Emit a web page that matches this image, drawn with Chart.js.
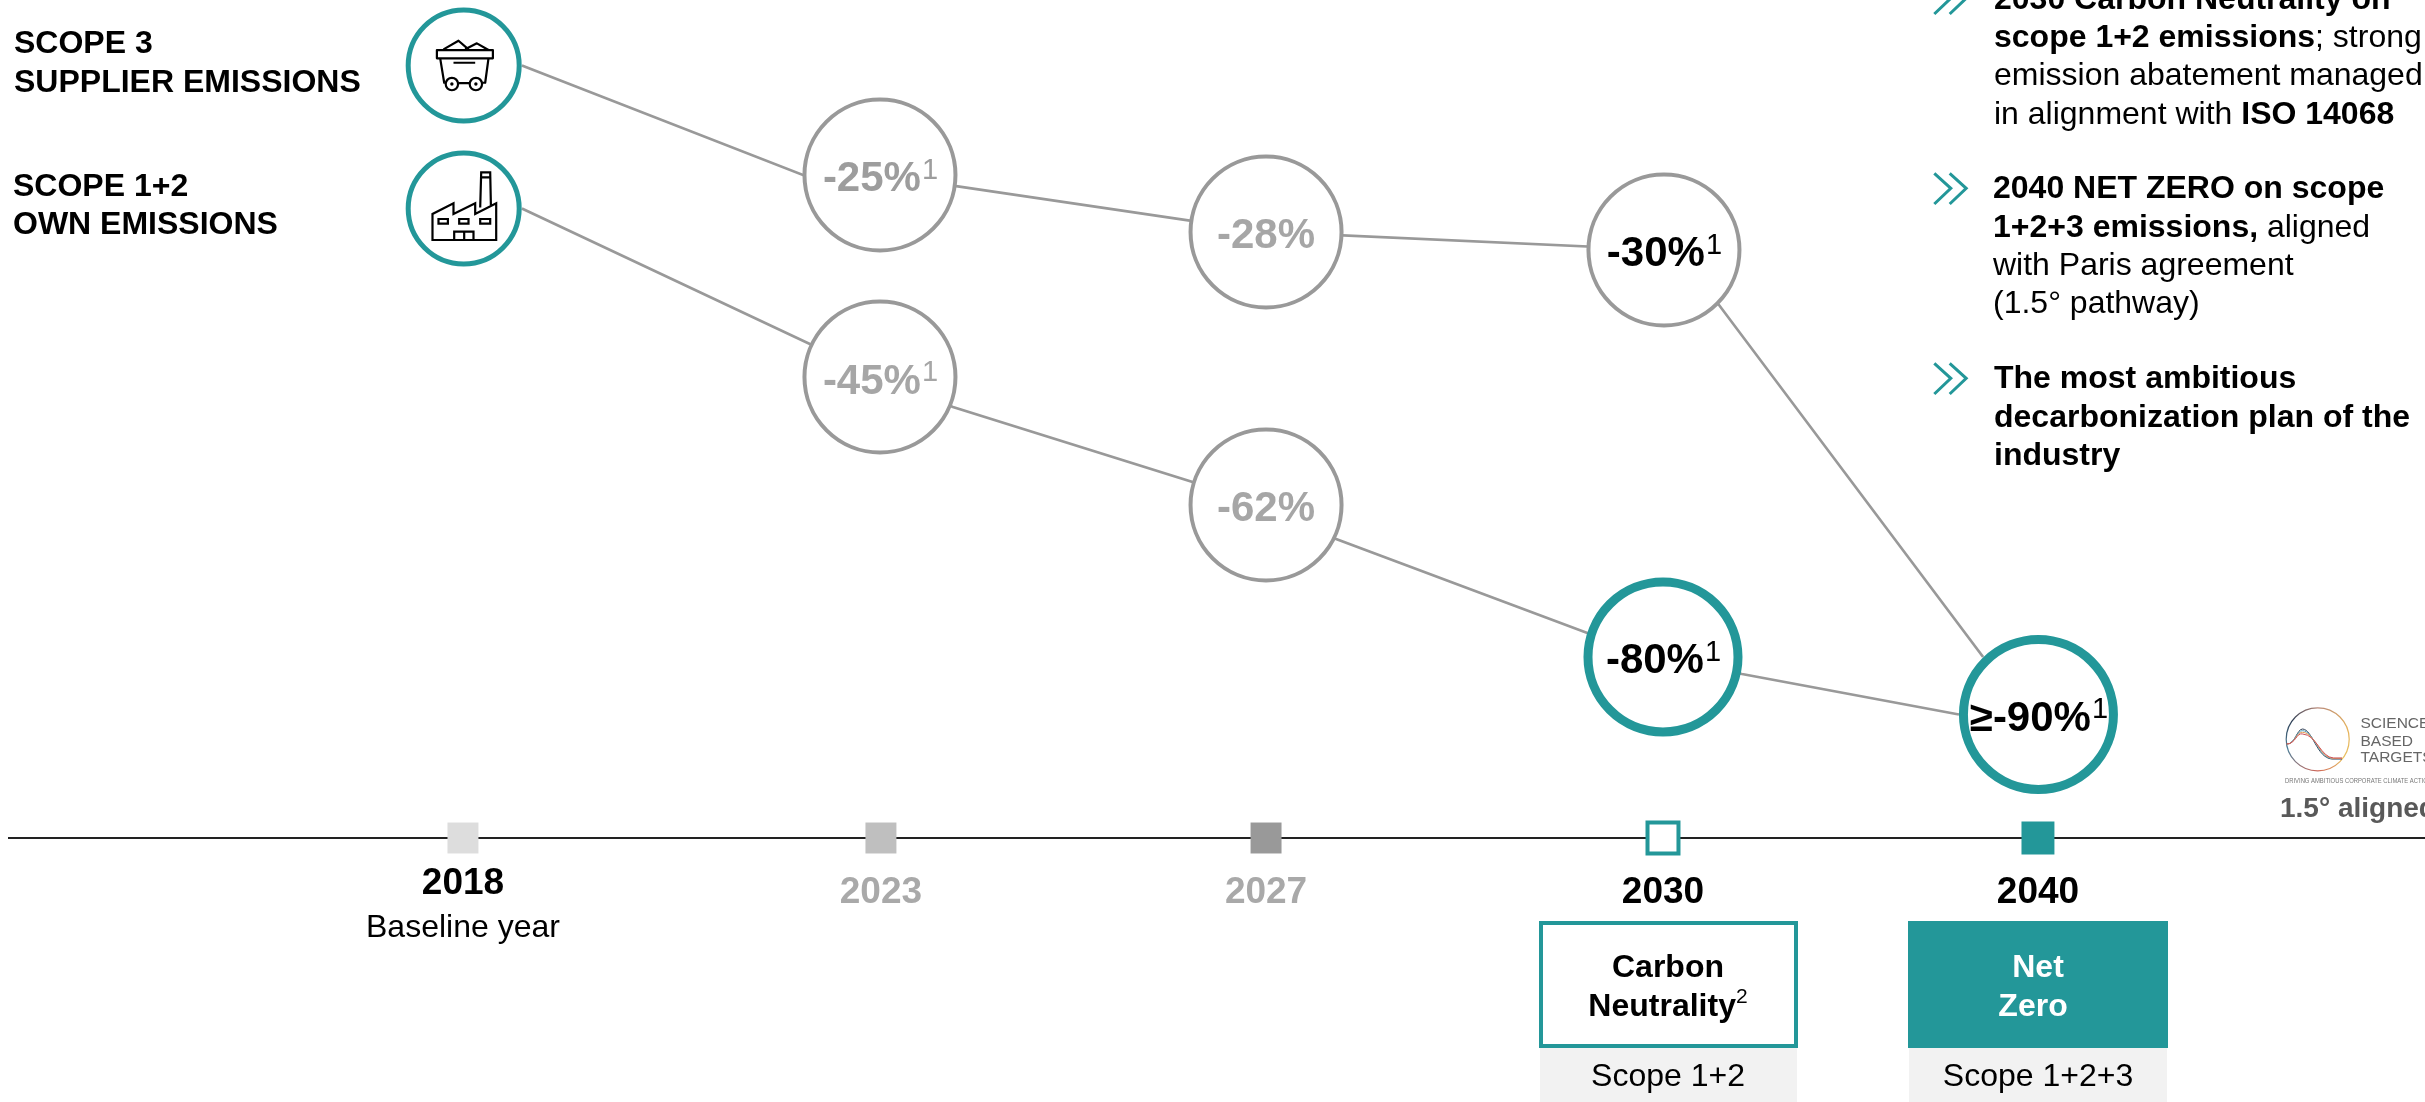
<!DOCTYPE html>
<html>
<head>
<meta charset="utf-8">
<style>
html,body{margin:0;padding:0;background:#fff;overflow:hidden}
canvas{display:block}
</style>
<script src="https://cdn.jsdelivr.net/npm/chart.js@4/dist/chart.umd.min.js"></script>
</head>
<body>
<canvas id="c" width="2425" height="1102"></canvas>
<script>
// Timeline
const timelineYears = ['2018','2023','2027','2030','2040'];
const timelineX = [18.79, 36.09, 52.03, 68.46, 83.98];
const timelineFill = ['#dddddd','#bfbfbf','#999999','#ffffff','#239799'];
const timelineEdge = ['#dddddd','#bfbfbf','#999999','#239799','#239799'];
const timelineSize = [21.9, 21.9, 21.9, 21.9, 23.3];
const timelineStroke = [0, 0, 0, 4, 0];
const yearColors = ['#000000','#a9a9a9','#a9a9a9','#000000','#000000'];

// Scope starting icons (schematic level on the 0-100 chart height)
const iconX = [18.82, 18.82];
const iconLevel = [92.18, 75.11];

// Scope 3 reductions
const scope3Labels = ['-25%','-28%','-30%'];
const scope3Notes = ['1','','1'];
const scope3X = [36.05, 52.03, 68.50];
const scope3Level = [79.12, 72.32, 70.17];
const scope3Text = ['#9d9d9d','#a6a6a6','#000000'];
const scope3LineX = [21.23, 32.86, 36.05, 52.03, 68.50, 70.78, 81.71];
const scope3LineLevel = [92.18, 79.12, 79.12, 72.32, 70.17, 63.60, 21.60];

// Scope 1+2 reductions
const scope12Labels = ['-45%','-62%','-80%'];
const scope12Notes = ['1','','1'];
const scope12X = [36.05, 52.03, 68.46];
const scope12Level = [55.01, 39.74, 21.60];
const scope12Text = ['#a6a6a6','#a6a6a6','#000000'];
const scope12Edge = ['#999999','#999999','#239799'];
const scope12Radius = [75.5, 75.5, 75];
const scope12Stroke = [4, 4, 9];
const scope12LineX = [21.23, 36.05, 39.07, 52.03, 54.93, 65.44, 68.46, 71.73, 80.71];
const scope12LineLevel = [75.11, 55.01, 51.43, 39.74, 35.68, 24.34, 21.60, 19.57, 14.74];

// 2040 target
const targetLabels = ['≥-90%'];
const targetNotes = ['1'];
const targetX = [84.00];
const targetLevel = [14.74];

const toPoints = (xs, ys) => xs.map((x, i) => ({x, y: ys[i]}));

const FONT = '"Liberation Sans", Arial, sans-serif';
const TEAL = '#239799';

function runs(ctx, x, y, list, size) {
  for (const [txt, bold, color] of list) {
    ctx.font = (bold ? 'bold ' : '') + size + 'px ' + FONT;
    ctx.fillStyle = color || '#000';
    ctx.fillText(txt, x, y);
    x += ctx.measureText(txt).width;
  }
}
function centered(ctx, txt, x, y, size, bold, color) {
  ctx.font = (bold ? 'bold ' : '') + size + 'px ' + FONT;
  ctx.fillStyle = color;
  ctx.textAlign = 'center';
  ctx.fillText(txt, x, y);
  ctx.textAlign = 'left';
}
function nodeText(ctx, pt, label, note, color) {
  ctx.textAlign = 'left';
  ctx.font = 'bold 42px ' + FONT;
  const w = ctx.measureText(label).width;
  ctx.font = '29px ' + FONT;
  const nw = note ? ctx.measureText(note).width : 0;
  const sx = pt.x - (w + nw) / 2;
  ctx.font = 'bold 42px ' + FONT;
  ctx.fillStyle = color;
  ctx.fillText(label, sx, pt.y + 16.5);
  if (note) {
    ctx.font = '29px ' + FONT;
    ctx.fillText(note, sx + w + 1, pt.y + 4);
  }
}
function chevrons(ctx, dy) {
  ctx.strokeStyle = TEAL; ctx.lineWidth = 3;
  for (const dx of [0, 15.4]) {
    ctx.beginPath();
    ctx.moveTo(1934.3 + dx, 173.3 + dy);
    ctx.lineTo(1950.8 + dx, 188.3 + dy);
    ctx.lineTo(1934.3 + dx, 204 + dy);
    ctx.stroke();
  }
}
function cart(ctx, p) {
  ctx.save();
  ctx.translate(p.x, p.y);
  ctx.strokeStyle = '#000'; ctx.lineWidth = 2.2; ctx.lineJoin = 'round';
  ctx.beginPath();
  ctx.moveTo(-20.2,-16.2); ctx.lineTo(-5.2,-24.8); ctx.lineTo(4.8,-16.2);
  ctx.moveTo(1.5,-16.2); ctx.lineTo(13.2,-22.2); ctx.lineTo(24.8,-15.5);
  ctx.rect(-26.8,-15.5,56,8.3);
  ctx.moveTo(-23.5,-7.2); ctx.lineTo(-19.5,17.2); ctx.lineTo(-18.5,17.2);
  ctx.moveTo(24.8,-7.2); ctx.lineTo(21.5,17.2); ctx.lineTo(18.5,17.2);
  ctx.moveTo(-5.5,17.5); ctx.lineTo(6,17.5);
  ctx.moveTo(-10.2,-2.8); ctx.lineTo(11.5,-2.8);
  ctx.stroke();
  for (const wx of [-11.8, 12.2]) {
    ctx.beginPath(); ctx.arc(wx,18.5,6.2,0,Math.PI*2); ctx.stroke();
    ctx.beginPath(); ctx.arc(wx,18.5,1.7,0,Math.PI*2); ctx.fillStyle='#000'; ctx.fill();
  }
  ctx.restore();
}
function factory(ctx, p) {
  ctx.save();
  ctx.translate(p.x, p.y);
  ctx.strokeStyle = '#000'; ctx.lineWidth = 2.2; ctx.lineJoin = 'miter';
  ctx.beginPath();
  ctx.moveTo(-31.2,31.4); ctx.lineTo(-31.2,5.4); ctx.lineTo(-10.2,-5.3); ctx.lineTo(-10.2,5.4);
  ctx.lineTo(11.5,-5.3); ctx.lineTo(11.5,5.4); ctx.lineTo(32.5,-5.3); ctx.lineTo(32.5,31.4); ctx.closePath();
  ctx.moveTo(16.5,-1); ctx.lineTo(17.5,-36.3); ctx.lineTo(26.5,-36.3); ctx.lineTo(27.2,-3.6);
  ctx.moveTo(17.3,-31.3); ctx.lineTo(26.7,-31.3);
  ctx.rect(-25.2,10.4,9.4,4.7); ctx.rect(-4.5,10.4,9.3,4.7); ctx.rect(16.5,10.4,10,4.7);
  ctx.rect(-9.5,23,19.3,8.4); ctx.moveTo(0.5,23); ctx.lineTo(0.5,31.4);
  ctx.stroke();
  ctx.restore();
}
function logo(ctx) {
  ctx.save();
  const cx = 2317.7, cy = 739.3;
  const g = ctx.createConicGradient(-Math.PI/2, cx, cy);
  g.addColorStop(0, '#b98a7a');
  g.addColorStop(0.2, '#e6b25a');
  g.addColorStop(0.35, '#e8c060');
  g.addColorStop(0.5, '#d0685a');
  g.addColorStop(0.7, '#4f7f98');
  g.addColorStop(0.85, '#2f3f55');
  g.addColorStop(1, '#b98a7a');
  ctx.strokeStyle = g; ctx.lineWidth = 1.2;
  ctx.beginPath(); ctx.arc(cx, cy, 31.5, 0, Math.PI*2); ctx.stroke();
  const cols = ['#2f3f55','#4fa0c0','#e6a05a','#c9505a'];
  ctx.translate(2270, 695); ctx.scale(1/3, 1/3);
  ctx.lineWidth = 3;
  cols.forEach((c, i) => {
    ctx.strokeStyle = c;
    ctx.beginPath();
    ctx.moveTo(50, 147);
    ctx.bezierCurveTo(76, 148, 80, 102 + i*3, 98, 102 + i*5);
    ctx.bezierCurveTo(128 + i*4, 104 + i*5, 140 + i*4, 188, 185 + i*2, 192 - i);
    ctx.lineTo(216, 192 - i);
    ctx.stroke();
  });
  ctx.restore();
  ctx.font = '15.5px ' + FONT; ctx.fillStyle = '#666';
  ctx.fillText('SCIENCE', 2360.5, 728);
  ctx.fillText('BASED', 2360.5, 745.5);
  ctx.fillText('TARGETS', 2360.5, 762);
  ctx.font = '7.5px ' + FONT; ctx.fillStyle = '#777';
  ctx.fillText('DRIVING AMBITIOUS CORPORATE CLIMATE ACTION', 2285, 783, 147);
  ctx.font = 'bold 28px ' + FONT; ctx.fillStyle = '#595959';
  ctx.fillText('1.5° aligned', 2280, 816.5);
}

const annotations = {
  id: 'annotations',
  afterDatasetsDraw(chart) {
    const ctx = chart.ctx;
    const xs = chart.scales.x;
    const base = chart.scales.y.getPixelForValue(0);
    ctx.save();
    ctx.textBaseline = 'alphabetic';
    ctx.textAlign = 'left';

    // left headers
    runs(ctx, 14, 53, [['SCOPE 3', true]], 32);
    runs(ctx, 14, 91.5, [['SUPPLIER EMISSIONS', true]], 32);
    runs(ctx, 13, 196, [['SCOPE 1+2', true]], 32);
    runs(ctx, 13, 234, [['OWN EMISSIONS', true]], 32);

    // icons
    const iconMeta = chart.getDatasetMeta(0).data;
    cart(ctx, iconMeta[0]);
    factory(ctx, iconMeta[1]);

    // node labels
    chart.getDatasetMeta(1).data.forEach((p, i) => nodeText(ctx, p, scope3Labels[i], scope3Notes[i], scope3Text[i]));
    chart.getDatasetMeta(2).data.forEach((p, i) => nodeText(ctx, p, scope12Labels[i], scope12Notes[i], scope12Text[i]));
    chart.getDatasetMeta(3).data.forEach((p, i) => nodeText(ctx, p, targetLabels[i], targetNotes[i], '#000'));

    // years
    timelineYears.forEach((yr, i) => {
      const dy = i === 0 ? 55.5 : 64.7;
      centered(ctx, yr, xs.getPixelForValue(timelineX[i]), base + dy, 37, true, yearColors[i]);
    });
    centered(ctx, 'Baseline year', xs.getPixelForValue(timelineX[0]), base + 99, 32, false, '#000');

    // target boxes
    ctx.fillStyle = '#f2f2f2';
    ctx.fillRect(1540, 1048, 257, 54);
    ctx.fillRect(1909, 1048, 258, 54);
    ctx.strokeStyle = TEAL; ctx.lineWidth = 4;
    ctx.strokeRect(1541, 923, 255, 123);
    ctx.fillStyle = TEAL;
    ctx.fillRect(1908, 921, 260, 127);

    centered(ctx, 'Carbon', 1668, 977, 32, true, '#000');
    ctx.font = 'bold 32px ' + FONT;
    const nw = ctx.measureText('Neutrality').width;
    ctx.font = '21px ' + FONT;
    const sw = ctx.measureText('2').width;
    const nx = 1668 - (nw + sw) / 2;
    runs(ctx, nx, 1015.7, [['Neutrality', true]], 32);
    runs(ctx, nx + nw, 1003, [['2', false]], 21);
    centered(ctx, 'Scope 1+2', 1668, 1086, 32, false, '#000');
    centered(ctx, 'Net', 2038, 976.7, 32, true, '#fff');
    centered(ctx, 'Zero', 2033, 1015.7, 32, true, '#fff');
    centered(ctx, 'Scope 1+2+3', 2038, 1086, 32, false, '#000');

    // right panel
    chevrons(ctx, -190); chevrons(ctx, 0); chevrons(ctx, 190);
    const X = 1994;
    runs(ctx, X, 8.5, [['2030 Carbon Neutrality on', true]], 32);
    runs(ctx, X, 47, [['scope 1+2 emissions', true], ['; strong', false]], 32);
    runs(ctx, X, 85, [['emission abatement managed', false]], 32);
    runs(ctx, X, 123.5, [['in alignment with ', false], ['ISO 14068', true]], 32);
    runs(ctx, X - 1, 198, [['2040 NET ZERO on scope', true]], 32);
    runs(ctx, X - 1, 236.5, [['1+2+3 emissions,', true], [' aligned', false]], 32);
    runs(ctx, X - 1, 275, [['with Paris agreement', false]], 32);
    runs(ctx, X - 1, 313, [['(1.5° pathway)', false]], 32);
    runs(ctx, X, 388, [['The most ambitious', true]], 32);
    runs(ctx, X, 426.5, [['decarbonization plan of the', true]], 32);
    runs(ctx, X, 465, [['industry', true]], 32);

    logo(ctx);
    ctx.restore();
  }
};

new Chart(document.getElementById('c').getContext('2d'), {
  type: 'scatter',
  data: {
    datasets: [
      { label: 'Starting icons', data: toPoints(iconX, iconLevel), order: 3, clip: false, showLine: false,
        pointRadius: 55.5, pointBorderWidth: 5, pointBackgroundColor: '#fff', pointBorderColor: TEAL },
      { label: 'Scope 3', data: toPoints(scope3X, scope3Level), order: 1, clip: false, showLine: false,
        pointRadius: 75.5, pointBorderWidth: 4, pointBackgroundColor: '#fff', pointBorderColor: '#999999' },
      { label: 'Scope 1+2', data: toPoints(scope12X, scope12Level), order: 1, clip: false, showLine: false,
        pointRadius: scope12Radius, pointBorderWidth: scope12Stroke, pointBackgroundColor: '#fff', pointBorderColor: scope12Edge },
      { label: '2040 target', data: toPoints(targetX, targetLevel), order: 1, clip: false, showLine: false,
        pointRadius: 75, pointBorderWidth: 9, pointBackgroundColor: '#fff', pointBorderColor: TEAL },
      { label: 'Scope 3 path', data: toPoints(scope3LineX, scope3LineLevel), order: 4, clip: false, showLine: true,
        pointRadius: 0, borderColor: '#999999', borderWidth: 2.7, tension: 0 },
      { label: 'Scope 1+2 path', data: toPoints(scope12LineX, scope12LineLevel), order: 4, clip: false, showLine: true,
        pointRadius: 0, borderColor: '#999999', borderWidth: 2.7, tension: 0 },
      { label: 'Timeline', data: timelineX.map(x => ({x, y: 0})), order: 0, clip: false, showLine: false,
        pointStyle: 'rect', pointRadius: timelineSize, pointBorderWidth: timelineStroke,
        pointBackgroundColor: timelineFill, pointBorderColor: timelineEdge }
    ]
  },
  options: {
    responsive: false,
    animation: false,
    devicePixelRatio: 1,
    layout: { autoPadding: false, padding: { left: 9, right: 0, top: 0, bottom: 264 } },
    plugins: { legend: { display: false }, tooltip: { enabled: false } },
    events: [],
    scales: {
      x: { type: 'linear', min: 0, max: 100,
           grid: { display: false, drawTicks: false },
           border: { display: true, color: '#222222', width: 2 },
           ticks: { display: false } },
      y: { type: 'linear', min: 0, max: 100, display: false }
    }
  },
  plugins: [annotations]
});
</script>
</body>
</html>
